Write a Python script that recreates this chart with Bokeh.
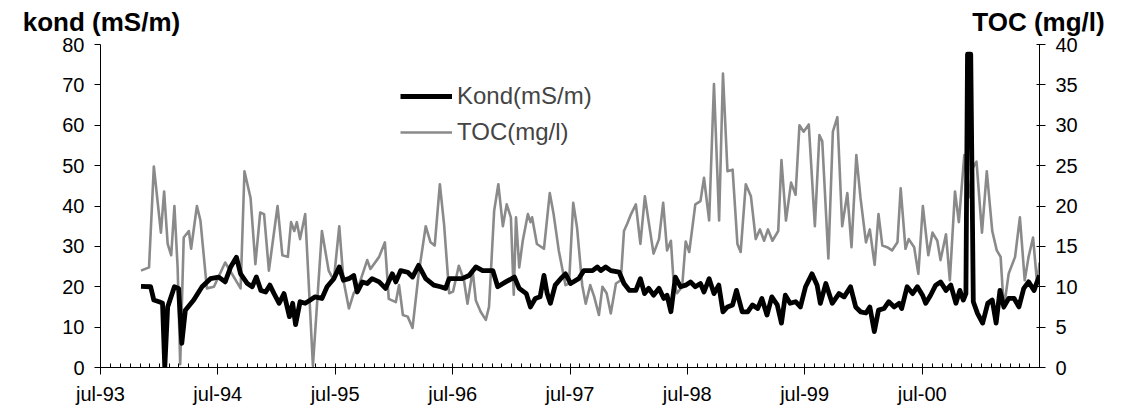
from bokeh.plotting import figure
from bokeh.models import (Range1d, LinearAxis, FixedTicker, CustomJSTickFormatter,
                          Legend, LegendItem, ColumnDataSource)
from bokeh.embed import file_html
from bokeh.resources import INLINE
import pandas as pd

# ---------------- data ----------------
kond_dates = [
    "1993-11-04", "1993-12-04", "1993-12-14", "1993-12-30", "1994-01-10", "1994-01-17", "1994-01-26",
    "1994-02-16", "1994-03-01", "1994-03-11", "1994-03-22", "1994-04-17", "1994-05-13", "1994-06-08",
    "1994-07-04", "1994-07-24", "1994-08-10", "1994-08-28", "1994-09-10", "1994-10-01", "1994-10-16",
    "1994-10-29", "1994-11-12", "1994-11-27", "1994-12-10", "1994-12-23", "1995-01-08", "1995-01-23",
    "1995-02-09", "1995-02-19", "1995-02-28", "1995-03-14", "1995-03-30", "1995-04-15", "1995-04-30",
    "1995-05-21", "1995-06-06", "1995-06-27", "1995-07-14", "1995-07-27", "1995-08-13", "1995-08-28",
    "1995-09-08", "1995-09-24", "1995-10-09", "1995-10-24", "1995-11-15", "1995-12-05", "1995-12-26",
    "1996-01-06", "1996-01-21", "1996-02-12", "1996-02-27", "1996-03-17", "1996-04-08", "1996-05-03",
    "1996-05-24", "1996-06-09", "1996-06-20", "1996-07-30", "1996-08-21", "1996-09-11", "1996-10-02",
    "1996-11-03", "1996-11-18", "1996-12-13", "1997-01-09", "1997-01-24", "1997-02-15", "1997-02-28",
    "1997-03-15", "1997-03-30", "1997-04-11", "1997-04-21", "1997-05-01", "1997-05-16", "1997-06-02",
    "1997-06-17", "1997-07-03", "1997-07-28", "1997-08-13", "1997-09-09", "1997-09-24", "1997-10-05",
    "1997-10-20", "1997-11-05", "1997-12-01", "1997-12-16", "1998-01-02", "1998-01-22", "1998-02-05",
    "1998-02-18", "1998-03-03", "1998-03-18", "1998-04-04", "1998-04-19", "1998-04-29", "1998-05-11",
    "1998-05-25", "1998-06-10", "1998-06-26", "1998-07-11", "1998-07-26", "1998-08-11", "1998-08-22",
    "1998-09-07", "1998-09-22", "1998-10-07", "1998-10-20", "1998-11-03", "1998-11-19", "1998-12-01",
    "1998-12-19", "1999-01-05", "1999-01-20", "1999-02-05", "1999-02-18", "1999-03-06", "1999-03-21",
    "1999-04-07", "1999-04-20", "1999-05-02", "1999-05-17", "1999-06-03", "1999-06-18", "1999-07-04",
    "1999-07-24", "1999-08-09", "1999-08-19", "1999-09-05", "1999-09-25", "1999-10-16", "1999-11-01",
    "1999-11-21", "1999-12-07", "1999-12-22", "2000-01-08", "2000-01-20", "2000-02-03", "2000-02-16",
    "2000-03-04", "2000-03-19", "2000-04-05", "2000-04-20", "2000-04-28", "2000-05-15", "2000-06-01",
    "2000-06-16", "2000-07-02", "2000-07-12", "2000-07-27", "2000-08-12", "2000-08-27", "2000-09-13",
    "2000-09-28", "2000-10-14", "2000-10-26", "2000-11-06", "2000-11-14", "2000-11-19", "2000-11-29",
    "2000-12-07", "2000-12-20", "2001-01-05", "2001-01-21", "2001-02-04", "2001-02-16", "2001-02-28",
    "2001-03-12", "2001-03-27", "2001-04-13", "2001-04-28", "2001-05-13", "2001-05-28", "2001-06-14",
    "2001-07-01",
]
kond_values = [
    20.1, 20.0, 16.7, 16.3, 15.9, 0.0, 15.0,
    20.0, 19.6, 6.0, 14.2, 16.7, 20.0, 22.0,
    22.4, 21.2, 24.9, 27.3, 23.2, 20.8, 20.0,
    22.4, 19.1, 18.7, 20.4, 18.3, 15.9, 18.3,
    12.6, 15.9, 10.6, 16.3, 15.9, 16.7, 17.5,
    17.1, 20.0, 22.0, 24.9, 21.6, 22.0, 22.8,
    18.7, 21.2, 20.8, 22.0, 21.2, 19.6, 23.2,
    21.2, 24.0, 23.6, 22.4, 25.3, 22.0, 20.4,
    20.0, 19.6, 22.0, 22.0, 22.8, 24.9, 24.0,
    24.0, 20.0, 21.2, 22.4, 19.6, 18.3, 15.0,
    17.1, 17.5, 22.8, 18.3, 15.9, 20.4, 22.0,
    23.2, 20.8, 22.0, 24.0, 24.0, 24.9, 24.0,
    24.9, 24.0, 23.6, 20.8, 19.1, 19.1, 22.0,
    18.3, 19.6, 17.9, 19.6, 17.1, 17.9, 13.8,
    22.4, 20.0, 20.4, 21.2, 20.0, 20.8, 18.7,
    22.0, 18.3, 20.4, 13.8, 15.0, 15.5, 19.1,
    13.8, 13.8, 15.5, 14.6, 17.1, 13.0, 17.5,
    15.5, 11.0, 17.9, 15.9, 16.3, 15.0, 20.0,
    23.2, 20.4, 15.9, 20.8, 15.9, 18.3, 17.5,
    20.0, 15.0, 13.8, 13.5, 15.0, 8.9, 14.2,
    14.6, 16.3, 15.0, 15.9, 14.6, 20.0, 18.3,
    20.0, 17.9, 15.9, 17.9, 20.4, 21.2, 19.1,
    20.4, 15.9, 19.1, 16.7, 18.3, 77.6, 77.6,
    16.3, 13.4, 11.0, 15.9, 16.7, 11.0, 19.1,
    15.0, 17.1, 17.1, 15.0, 19.6, 21.2, 19.1,
    22.8,
]

toc_dates = [
    "1993-11-04", "1993-11-29", "1993-12-14", "1994-01-05", "1994-01-15", "1994-01-26", "1994-02-06",
    "1994-02-16", "1994-02-26", "1994-03-06", "1994-03-17", "1994-04-02", "1994-04-09", "1994-04-27",
    "1994-05-08", "1994-05-28", "1994-06-19", "1994-07-24", "1994-09-10", "1994-09-22", "1994-10-11",
    "1994-10-26", "1994-11-10", "1994-11-22", "1994-12-07", "1995-01-03", "1995-01-18", "1995-02-04",
    "1995-02-14", "1995-02-24", "1995-03-04", "1995-03-14", "1995-03-30", "1995-04-23", "1995-05-21",
    "1995-06-11", "1995-06-27", "1995-07-14", "1995-07-27", "1995-08-13", "1995-08-28", "1995-09-13",
    "1995-10-09", "1995-10-19", "1995-11-15", "1995-12-03", "1995-12-15", "1996-01-06", "1996-01-16",
    "1996-01-28", "1996-02-12", "1996-02-27", "1996-03-17", "1996-04-08", "1996-04-23", "1996-05-06",
    "1996-05-22", "1996-06-04", "1996-06-20", "1996-07-02", "1996-07-20", "1996-08-05", "1996-08-16",
    "1996-09-01", "1996-09-11", "1996-09-26", "1996-10-12", "1996-10-22", "1996-11-07", "1996-11-20",
    "1996-12-04", "1996-12-16", "1996-12-29", "1997-01-07", "1997-01-14", "1997-01-24", "1997-02-04",
    "1997-02-20", "1997-02-28", "1997-03-05", "1997-03-20", "1997-04-11", "1997-04-29", "1997-05-11",
    "1997-05-27", "1997-06-17", "1997-06-28", "1997-07-11", "1997-07-23", "1997-08-08", "1997-08-19",
    "1997-09-02", "1997-09-14", "1997-09-29", "1997-10-10", "1997-10-23", "1997-11-05", "1997-11-21",
    "1997-12-06", "1997-12-16", "1997-12-26", "1998-01-07", "1998-01-22", "1998-02-05", "1998-02-19",
    "1998-03-03", "1998-03-18", "1998-04-04", "1998-04-17", "1998-04-29", "1998-05-11", "1998-05-19",
    "1998-05-30", "1998-06-15", "1998-06-26", "1998-07-07", "1998-07-26", "1998-08-11", "1998-08-22",
    "1998-09-07", "1998-09-22", "1998-10-08", "1998-10-20", "1998-11-03", "1998-11-19", "1998-12-04",
    "1998-12-14", "1998-12-30", "1999-01-15", "1999-01-30", "1999-02-12", "1999-02-25", "1999-03-09",
    "1999-03-23", "1999-04-10", "1999-04-20", "1999-05-04", "1999-05-20", "1999-06-03", "1999-06-15",
    "1999-06-28", "1999-07-14", "1999-08-02", "1999-08-16", "1999-08-25", "1999-09-13", "1999-09-27",
    "1999-10-11", "1999-10-26", "1999-11-11", "1999-11-24", "1999-12-09", "1999-12-22", "2000-01-08",
    "2000-01-20", "2000-02-04", "2000-02-16", "2000-02-28", "2000-03-14", "2000-03-29", "2000-04-15",
    "2000-04-25", "2000-05-10", "2000-05-20", "2000-06-06", "2000-06-19", "2000-07-03", "2000-07-20",
    "2000-08-02", "2000-08-17", "2000-08-27", "2000-09-13", "2000-09-25", "2000-10-11", "2000-10-23",
    "2000-11-09", "2000-11-22", "2000-12-05", "2000-12-17", "2001-01-03", "2001-01-18", "2001-02-04",
    "2001-02-18", "2001-03-02", "2001-03-12", "2001-03-27", "2001-04-16", "2001-05-01", "2001-05-16",
    "2001-05-28", "2001-06-11", "2001-06-24", "2001-07-01",
]
toc_values = [
    12.0, 12.4, 24.9, 16.7, 21.8, 15.3, 13.9,
    20.0, 12.4, 0.4, 16.1, 16.9, 14.7, 20.0,
    18.2, 9.8, 10.0, 13.0, 9.8, 24.3, 21.0,
    12.8, 19.2, 19.0, 12.0, 20.0, 13.9, 13.7,
    18.0, 16.9, 18.0, 15.9, 19.0, 0.2, 16.9,
    12.0, 10.8, 17.5, 10.8, 7.3, 9.2, 10.2,
    13.3, 12.2, 13.7, 15.5, 8.5, 8.1, 10.2,
    6.5, 6.3, 4.9, 11.6, 17.5, 15.5, 15.1,
    22.7, 17.8, 9.2, 9.4, 12.6, 10.8, 7.9,
    12.0, 8.3, 6.9, 5.9, 7.5, 19.4, 22.7,
    17.5, 20.2, 18.6, 9.0, 18.6, 12.4, 15.7,
    19.0, 18.0, 18.6, 15.3, 14.7, 21.6, 19.0,
    14.5, 10.2, 10.4, 20.4, 17.3, 10.2, 7.9,
    10.2, 8.8, 6.5, 10.0, 9.2, 6.7, 10.4,
    10.8, 16.9, 17.8, 19.0, 20.2, 15.3, 21.2,
    18.0, 14.1, 15.9, 20.4, 14.5, 15.7, 10.8,
    9.2, 10.0, 15.6, 14.3, 20.2, 20.6, 23.5,
    18.2, 35.1, 18.2, 36.4, 24.3, 24.5, 15.3,
    14.3, 22.7, 21.2, 15.9, 17.1, 15.7, 17.1,
    15.7, 16.9, 25.7, 18.2, 22.9, 21.4, 30.0,
    29.2, 30.1, 17.5, 28.8, 28.0, 13.5, 29.2,
    31.0, 17.5, 21.6, 14.9, 26.3, 21.0, 15.5,
    17.1, 12.7, 19.0, 15.1, 14.9, 14.5, 15.5,
    22.2, 14.7, 15.9, 14.9, 11.6, 20.0, 13.9,
    16.7, 15.7, 13.3, 16.5, 10.8, 21.8, 18.0,
    26.3, 21.0, 24.7, 25.5, 16.7, 24.3, 16.9,
    14.5, 13.7, 7.3, 11.6, 13.7, 18.6, 10.8,
    13.7, 16.1, 10.2, 13.0,
]

x_start = "1993-07-01"
x_end = "2001-07-01"
major_tick_dates = ["1993-07-01", "1994-07-01", "1995-07-01", "1996-07-01",
                    "1997-07-01", "1998-07-01", "1999-07-01", "2000-07-01"]
kond_ticks = [0, 10, 20, 30, 40, 50, 60, 70, 80]
toc_ticks = [0, 5, 10, 15, 20, 25, 30, 35, 40]

left_title = "kond (mS/m)"
right_title = "TOC (mg/l)"
kond_label = "Kond(mS/m)"
toc_label = "TOC(mg/l)"

# ---------------- helpers ----------------
def ms(s):
    return pd.Timestamp(s).value / 1e6

kond_src = ColumnDataSource(dict(x=pd.to_datetime(kond_dates), y=kond_values))
toc_src = ColumnDataSource(dict(x=pd.to_datetime(toc_dates), y=toc_values))

FONT = "Liberation Sans"
FRAME_L, FRAME_R = 100, 1039

p = figure(width=1122, height=407, x_axis_type="datetime",
           x_range=Range1d(pd.Timestamp(x_start), pd.Timestamp(x_end)),
           y_range=Range1d(0, 80),
           output_backend="svg", toolbar_location=None,
           min_border_left=FRAME_L, min_border_right=1122 - FRAME_R,
           min_border_top=44, min_border_bottom=38)
p.extra_y_ranges = {"toc": Range1d(0, 40)}
p.extra_x_ranges = {"px": Range1d(FRAME_L, FRAME_R)}
p.outline_line_color = None
p.xgrid.visible = False
p.ygrid.visible = False
p.background_fill_color = "white"
p.border_fill_color = "white"

toc_r = p.line("x", "y", source=toc_src, y_range_name="toc",
               line_color="#8a8a8a", line_width=2.6, line_join="round")
kond_r = p.line("x", "y", source=kond_src,
                line_color="black", line_width=4.8, line_join="round")

# x axis
minor = [ms(d) for d in pd.date_range(x_start, x_end, freq="MS")]
xa = p.xaxis[0]
xa.ticker = FixedTicker(ticks=[ms(d) for d in major_tick_dates], minor_ticks=minor)
xa.formatter = CustomJSTickFormatter(code="""
const d = new Date(tick);
const names = ['jan','feb','mar','apr','maj','jun','jul','aug','sep','okt','nov','dec'];
const y = String(d.getUTCFullYear() % 100).padStart(2, '0');
return names[d.getUTCMonth()] + '-' + y;
""")
xa.major_tick_in = 0
xa.major_tick_out = 7
xa.minor_tick_in = 4
xa.minor_tick_out = 0
xa.major_label_standoff = 8

# left axis
ya = p.yaxis[0]
ya.ticker = FixedTicker(ticks=kond_ticks)
ya.major_tick_in = 0
ya.major_tick_out = 6
ya.minor_tick_line_color = None
ya.major_label_standoff = 10

# right axis
ra = LinearAxis(y_range_name="toc", ticker=FixedTicker(ticks=toc_ticks))
ra.major_tick_in = 3
ra.major_tick_out = 6
ra.minor_tick_line_color = None
ra.major_label_standoff = 10
p.add_layout(ra, "right")

for ax in (xa, ya, ra):
    ax.axis_line_color = "black"
    ax.major_tick_line_color = "black"
    ax.major_label_text_font = FONT
    ax.major_label_text_font_size = "20px"
    ax.major_label_text_color = "black"
xa.minor_tick_line_color = "black"

# axis titles (top-left and top-right), drawn as labels of a bare axis above the frame
ta = LinearAxis(x_range_name="px",
                ticker=FixedTicker(ticks=[FRAME_L + 1, FRAME_R - 1]),
                major_label_overrides={FRAME_L + 1: left_title, FRAME_R - 1: right_title})
ta.axis_line_color = None
ta.major_tick_line_color = None
ta.minor_tick_line_color = None
ta.major_tick_in = 0
ta.major_tick_out = 0
ta.major_label_standoff = 8
ta.major_label_text_font = FONT
ta.major_label_text_font_size = "26px"
ta.major_label_text_font_style = "bold"
ta.major_label_text_color = "black"
p.add_layout(ta, "above")

legend = Legend(items=[LegendItem(label=kond_label, renderers=[kond_r]),
                       LegendItem(label=toc_label, renderers=[toc_r])],
                location=(300, 221))
legend.label_text_font = FONT
legend.label_text_font_size = "24px"
legend.glyph_width = 52
legend.glyph_height = 20
legend.label_standoff = 5
legend.spacing = 8
legend.padding = 0
legend.margin = 0
legend.border_line_color = None
legend.background_fill_alpha = 0
p.add_layout(legend)

open("out.html", "w").write(file_html(p, INLINE))
